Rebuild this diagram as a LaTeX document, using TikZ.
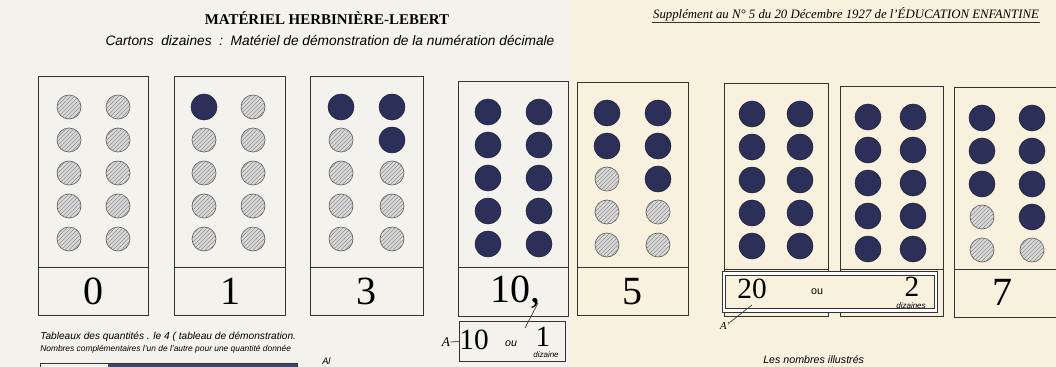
\documentclass[tikz,border=0pt]{standalone}
\usepackage{fontspec}
\setmainfont{Liberation Serif}
\setsansfont{Liberation Sans}
\usetikzlibrary{positioning,patterns}
\definecolor{paperL}{HTML}{F3F2EC}
\definecolor{paperR}{HTML}{F8F1DE}
\definecolor{navy}{HTML}{2C3058}

\begin{document}
\begin{tikzpicture}[
      x=0.75pt,y=-0.75pt,
      carton/.style={draw=black!80,line width=0.75pt},
      plein/.style={fill=navy,draw=navy!60!black,line width=0.4pt},
      vide/.style={fill=gray!28,draw=black!65,line width=0.5pt,postaction={pattern=north east lines,pattern color=black!45}},
      chiffre/.style={font=\fontsize{30}{30}\selectfont,inner sep=0pt},
      petitchiffre/.style={font=\fontsize{22}{22}\selectfont,inner sep=0pt},
      main/.style={font=\sffamily\itshape\fontsize{6}{6}\selectfont,inner sep=0pt},
      ou/.style={font=\sffamily\fontsize{8}{8}\selectfont,inner sep=0pt},
      cadre/.style={draw=black!80,line width=0.75pt,fill=paperR,inner sep=0pt}
    ]
      \useasboundingbox (0,0) rectangle (1056,367);
      \fill[paperL] (0,0) rectangle (570,367);
      \fill[paperR] (570,0) rectangle (1056,367);
      \clip (0,0) rectangle (1056,367);

      \node[font=\bfseries\fontsize{11.2}{12}\selectfont] (title) at (327,18) {MATÉRIEL HERBINIÈRE-LEBERT};
      \node[font=\sffamily\itshape\fontsize{10.3}{11}\selectfont] (sub) at (330,41) {Cartons\ \ dizaines \ :\ \ Matériel de démonstration de la numération décimale};
      \node[font=\itshape\fontsize{9.6}{10}\selectfont,inner sep=1pt] (supp) at (846,14) {Supplément au N° 5 du 20 Décembre 1927 de l'ÉDUCATION ENFANTINE};
      \draw[black!80,line width=0.5pt] (supp.south west) -- (supp.south east);

      \foreach \l/\t/\r/\b/\m/\ca/\cb in {38/77/148/315/267/69/118, 174/77/285/315/267/204/253, 310/77/423/315/267/341/392,
          458/82/568/316/267/488/539, 577/83/688/315/267/607/658, 724/84/828/316/269/752/800,
          840/87/943/316/269/868/913, 954/88/1070/317/269/982/1032}{
        \draw[carton] (\l,\t) rectangle (\r,\b);
        \draw[carton] (\l,\m) -- (\r,\m);
        \foreach \y in {0,...,4}
          \foreach \x in {\ca,\cb}
            \path[vide] (\x,\t+30+33*\y) circle[radius=12];
      }

      \foreach \ca/\cb/\t/\dk in {204/253/77/{1}, 341/392/77/{1,2,4}, 488/539/82/{1,...,10}, 607/658/83/{1,2,3,4,6},
          752/800/84/{1,...,10}, 868/913/87/{1,...,10}, 982/1032/88/{1,2,3,4,5,6,8}}{
        \foreach \k in \dk {
          \pgfmathtruncatemacro{\rg}{floor((\k-1)/2)}
          \pgfmathtruncatemacro{\cl}{mod(\k-1,2)}
          \path[plein] ({\ca+\cl*(\cb-\ca)},\t+30+33*\rg) circle[radius=13];
        }
      }

      \node[chiffre] (n0) at (93,291) {0};
      \node[chiffre] (n1) at (230,291) {1};
      \node[chiffre] (n3) at (366,291) {3};
      \node[chiffre] (n10) at (515,292) {10,};
      \node[chiffre] (n5) at (632,292) {5};
      \node[chiffre] (n7) at (1002,292) {7};

      \node[cadre,double,double distance=1.8pt,minimum width=159pt,minimum height=28pt] (box20) at (830,292) {};
      \node[petitchiffre] (v20) at (752,289) {20};
      \node[ou] (ou20) at (817,292) {ou};
      \node[petitchiffre] (v2) at (912,287) {2};
      \node[main] (diz20) at (911,306) {dizaines};

      \node[cadre,fill=paperL,minimum width=80pt,minimum height=30.5pt] (box10) at (512.5,341.5) {};
      \node[petitchiffre] (v10) at (474,340) {10};
      \node[ou,font=\sffamily\itshape\fontsize{8}{8}\selectfont] (ou10) at (511,344) {ou};
      \node[petitchiffre] (v1) at (543,337) {1};
      \node[main] (diz10) at (546,355) {dizaine};

      \node[font=\itshape\fontsize{10}{10}\selectfont,inner sep=0pt] (labA) at (446,342) {A};
      \node[font=\itshape\fontsize{8}{8}\selectfont,inner sep=0pt] (labAp) at (725,326) {A'};
      \coordinate (p10) at (538,303);
      \coordinate (p20) at (752,305);
      \draw[black!80,line width=0.5pt] (labA.east) -- (box10.west);
      \draw[black!80,line width=0.5pt] (525,328) -- (p10);
      \draw[black!80,line width=0.5pt] (labAp.north east) -- (p20);

      \node[font=\sffamily\itshape\fontsize{7.6}{8}\selectfont,anchor=west,inner sep=0pt] (tab1) at (40,337) {Tableaux des quantités . le 4 ( tableau de démonstration.};
      \node[font=\sffamily\itshape\fontsize{6.3}{7}\selectfont,anchor=west,inner sep=0pt] (tab2) at (40,349) {Nombres complémentaires l'un de l'autre pour une quantité donnée};
      \draw[carton] (40,363) rectangle (297,385);
      \fill[navy!90] (108,363.5) rectangle (297,385);
      \node[font=\sffamily\itshape\fontsize{7}{7}\selectfont,anchor=west,inner sep=0pt] (al) at (322,361) {Al};
      \node[font=\sffamily\itshape\fontsize{8}{8}\selectfont,anchor=west,inner sep=0pt] (illus) at (763,360) {Les nombres illustrés};
    \end{tikzpicture}
\end{document}
